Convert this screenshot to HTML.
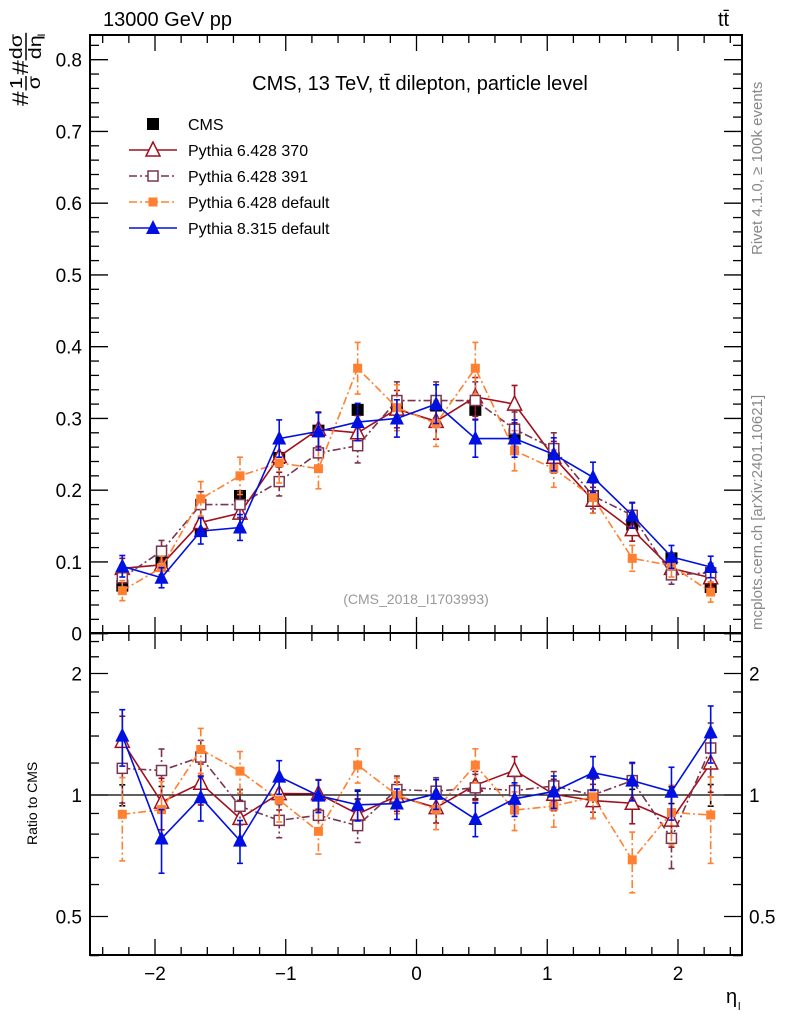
<!DOCTYPE html>
<html><head><meta charset="utf-8"><style>
html,body{margin:0;padding:0;background:#fff}
svg{display:block;font-family:"Liberation Sans",sans-serif}
</style></head><body>
<svg id="chart" width="786" height="1024" viewBox="0 0 786 1024" xmlns="http://www.w3.org/2000/svg">
<rect width="786" height="1024" fill="#fff"/>
<g id="plots"></g>
<text x="103" y="26" font-size="20">13000 GeV pp</text>
<text x="718" y="26" font-size="20">tt̄</text>
<text x="420" y="90" font-size="20" text-anchor="middle">CMS, 13 TeV, tt̄ dilepton, particle level</text>
<text x="416" y="604" font-size="14" fill="#999" text-anchor="middle">(CMS_2018_I1703993)</text>
<text transform="translate(762,255) rotate(-90)" font-size="15" fill="#888">Rivet 4.1.0, ≥ 100k events</text>
<text transform="translate(762,630) rotate(-90)" font-size="15" fill="#888">mcplots.cern.ch [arXiv:2401.10621]</text>
<g transform="translate(28,106) rotate(-90) scale(1.2,1.0)" font-size="22">
<text x="0" y="0">#</text><text x="14" y="-6" font-size="18">1</text><line x1="13" y1="-2" x2="25" y2="-2" stroke="#000" stroke-width="1.5"/><text x="14" y="12" font-size="18">σ</text>
<text x="26" y="0">#</text><text x="39" y="-6" font-size="18">dσ</text><line x1="38" y1="-2" x2="61" y2="-2" stroke="#000" stroke-width="1.5"/><text x="39" y="13" font-size="18">dη</text><text x="58" y="17" font-size="10">l</text>
</g>
<text transform="translate(37,845) rotate(-90)" font-size="14">Ratio to CMS</text>
<text x="726" y="1003" font-size="20">η</text>
<text x="738" y="1010" font-size="11">l</text>
</svg>
<script>
// ---- data ----
const binCenters=[-2.25,-1.95,-1.65,-1.35,-1.05,-0.75,-0.45,-0.15,0.15,0.45,0.75,1.05,1.35,1.65,1.95,2.25];
const cmsValues=[0.067,0.100,0.145,0.192,0.245,0.283,0.312,0.315,0.318,0.312,0.278,0.245,0.192,0.152,0.105,0.065];
const cmsErrors=[0.004,0.005,0.005,0.006,0.007,0.007,0.007,0.007,0.007,0.007,0.007,0.007,0.006,0.005,0.005,0.004];
const p370Values=[0.091,0.096,0.155,0.168,0.247,0.285,0.280,0.313,0.296,0.330,0.320,0.246,0.186,0.145,0.091,0.078];
const p370Errors=[0.014,0.014,0.018,0.018,0.022,0.024,0.024,0.026,0.025,0.027,0.026,0.022,0.018,0.016,0.013,0.012];
const p391Values=[0.078,0.115,0.180,0.180,0.212,0.252,0.262,0.325,0.325,0.325,0.285,0.258,0.192,0.165,0.082,0.085];
const p391Errors=[0.014,0.015,0.018,0.018,0.020,0.023,0.024,0.026,0.026,0.026,0.024,0.022,0.018,0.017,0.013,0.013];
const pdefValues=[0.060,0.092,0.188,0.220,0.238,0.230,0.370,0.315,0.293,0.370,0.255,0.230,0.190,0.105,0.095,0.058];
const pdefErrors=[0.014,0.016,0.024,0.026,0.028,0.028,0.036,0.032,0.032,0.036,0.028,0.026,0.022,0.018,0.016,0.014];
const p8Values=[0.094,0.078,0.143,0.148,0.272,0.282,0.295,0.300,0.320,0.272,0.272,0.250,0.218,0.165,0.107,0.093];
const p8Errors=[0.015,0.014,0.018,0.018,0.026,0.026,0.026,0.026,0.027,0.026,0.026,0.023,0.021,0.018,0.016,0.015];
const mainTicks=[0,0.1,0.2,0.3,0.4,0.5,0.6,0.7,0.8];
const mainTickLabels=["0","0.1","0.2","0.3","0.4","0.5","0.6","0.7","0.8"];
const ratioTicks=[0.5,1,2];
const ratioTickLabels=["0.5","1","2"];
const xTicks=[-2,-1,0,1,2];
const xTickLabels=["\u22122","\u22121","0","1","2"];

// ---- geometry ----
const L=90,R=742,T=35,MID=633,B=955;
const X=v=>416.5+v*130.75;
const Y=v=>633.7-v*717.5;
const RY=r=>795-Math.log2(r)*121.5;
const NS="http://www.w3.org/2000/svg";
const g=document.getElementById('plots');
function el(tag,attrs,parent){const e=document.createElementNS(NS,tag);for(const k in attrs)e.setAttribute(k,attrs[k]);(parent||g).appendChild(e);return e;}

// frames
const f1=el('rect',{x:L,y:T,width:R-L,height:MID-T,fill:'none',stroke:'#000','stroke-width':2});


const f2=el('rect',{x:L,y:MID,width:R-L,height:B-MID,fill:'none',stroke:'#000','stroke-width':2});



// x ticks
for(let v=-2.4;v<=2.41;v+=0.2){
  const vv=Math.round(v*10)/10;const major=Math.abs(vv-Math.round(vv))<1e-6;const len=major?16:8;
  [[T,1],[MID,-1],[MID,1],[B,-1]].forEach(([y0,d])=>el('line',{x1:X(vv),x2:X(vv),y1:y0,y2:y0+d*len,stroke:'#000','stroke-width':1.3}));
}
xTicks.forEach((v,i)=>{const t=el('text',{x:X(v),y:980,'font-size':19,'text-anchor':'middle'});t.textContent=xTickLabels[i];

});
// main y ticks
for(let v=0;v<=0.84;v+=0.02){
  const vv=Math.round(v*100)/100;const major=Math.abs(vv*10-Math.round(vv*10))<1e-6;const len=major?18:9;
  el('line',{x1:L,x2:L+len,y1:Y(vv),y2:Y(vv),stroke:'#000','stroke-width':1.3});
  el('line',{x1:R,x2:R-len,y1:Y(vv),y2:Y(vv),stroke:'#000','stroke-width':1.3});
}
mainTicks.forEach((v,i)=>{const t=el('text',{x:82,y:Y(v)+7,'font-size':19,'text-anchor':'end'});t.textContent=mainTickLabels[i];

});
// ratio ticks
[0.4,0.6,0.7,0.8,0.9,1.2,1.4,1.6,1.8,2.2,2.4].forEach(r=>{
  el('line',{x1:L,x2:L+9,y1:RY(r),y2:RY(r),stroke:'#000','stroke-width':1.3});
  el('line',{x1:R,x2:R-9,y1:RY(r),y2:RY(r),stroke:'#000','stroke-width':1.3});
});
ratioTicks.forEach((r,i)=>{
  el('line',{x1:L,x2:L+18,y1:RY(r),y2:RY(r),stroke:'#000','stroke-width':1.3});
  el('line',{x1:R,x2:R-18,y1:RY(r),y2:RY(r),stroke:'#000','stroke-width':1.3});
  const t=el('text',{x:82,y:RY(r)+7,'font-size':19,'text-anchor':'end'});t.textContent=ratioTickLabels[i];
  
  
  const t2=el('text',{x:749,y:RY(r)+7,'font-size':19});t2.textContent=ratioTickLabels[i];
  
  
});
const one=el('line',{x1:L,x2:R,y1:RY(1),y2:RY(1),stroke:'#000','stroke-width':1.3});



function marker(parent,type,x,y,color,s){
  if(type==='sq') el('rect',{x:x-s,y:y-s,width:2*s,height:2*s,fill:color},parent);
  else if(type==='osq') el('rect',{x:x-s+1,y:y-s+1,width:2*s-2,height:2*s-2,fill:'#fff',stroke:color,'stroke-width':1.5},parent);
  else if(type==='otri') el('polygon',{points:`${x},${y-s-1} ${x-s},${y+s-1} ${x+s},${y+s-1}`,fill:'#fff',stroke:color,'stroke-width':1.5},parent);
  else if(type==='tri') el('polygon',{points:`${x},${y-s-1} ${x-s},${y+s-1} ${x+s},${y+s-1}`,fill:color},parent);
}
function series(name,vals,errs,color,dash,type,s,lineOn){
  const gg=el('g',{});
  
  
  const pts=binCenters.map((x,i)=>[X(x),Y(vals[i])]);
  const rpts=binCenters.map((x,i)=>[X(x),RY(vals[i]/cmsValues[i])]);
  if(lineOn){
    el('polyline',{points:pts.map(p=>p.join(',')).join(' '),fill:'none',stroke:color,'stroke-width':1.6,'stroke-dasharray':dash},gg);
    el('polyline',{points:rpts.map(p=>p.join(',')).join(' '),fill:'none',stroke:color,'stroke-width':1.6,'stroke-dasharray':dash},gg);
  }
  binCenters.forEach((x,i)=>{
    const px=X(x);
    const segs=[[Y(vals[i]+errs[i]),Y(vals[i]-errs[i])],[RY((vals[i]+errs[i])/cmsValues[i]),RY((vals[i]-errs[i])/cmsValues[i])]];
    segs.forEach(([a,b])=>{
      el('line',{x1:px,x2:px,y1:a,y2:b,stroke:color,'stroke-width':1.6,'stroke-dasharray':dash},gg);
      el('line',{x1:px-3,x2:px+3,y1:a,y2:a,stroke:color,'stroke-width':1.6},gg);
      el('line',{x1:px-3,x2:px+3,y1:b,y2:b,stroke:color,'stroke-width':1.6},gg);
    });
    marker(gg,type,px,pts[i][1],color,s);
    if(name!=='cms-series') marker(gg,type,px,rpts[i][1],color,s);
  });
}
series('cms-series',cmsValues,cmsErrors,'#000','', 'sq',6,false);
series('pythia6-370-series',p370Values,p370Errors,'#a0101e','','otri',7,true);
series('pythia6-391-series',p391Values,p391Errors,'#7a3450','8,3,2,3','osq',6,true);
series('pythia6-default-series',pdefValues,pdefErrors,'#ff8030','8,3,2,3','sq',4.5,true);
series('pythia8-series',p8Values,p8Errors,'#0010e0','','tri',7,true);

// legend
const legNames=['CMS','Pythia 6.428 370','Pythia 6.428 391','Pythia 6.428 default','Pythia 8.315 default'];
const legStyles=[['#000','','sq',6,false],['#a0101e','','otri',7,true],['#7a3450','8,3,2,3','osq',6,true],['#ff8030','8,3,2,3','sq',4.5,true],['#0010e0','','tri',7,true]];
legNames.forEach((n,i)=>{
  const y=124+i*26;const lg=el('g',{});
  
  
  const [c,d,t,s,ln]=legStyles[i];
  if(ln) el('line',{x1:129,x2:177,y1:y,y2:y,stroke:c,'stroke-width':1.6,'stroke-dasharray':d},lg);
  marker(lg,t,153,y,c,s);
  const tx=el('text',{x:188,y:y+6,'font-size':16},lg);tx.textContent=n;
});
</script>
</body></html>
